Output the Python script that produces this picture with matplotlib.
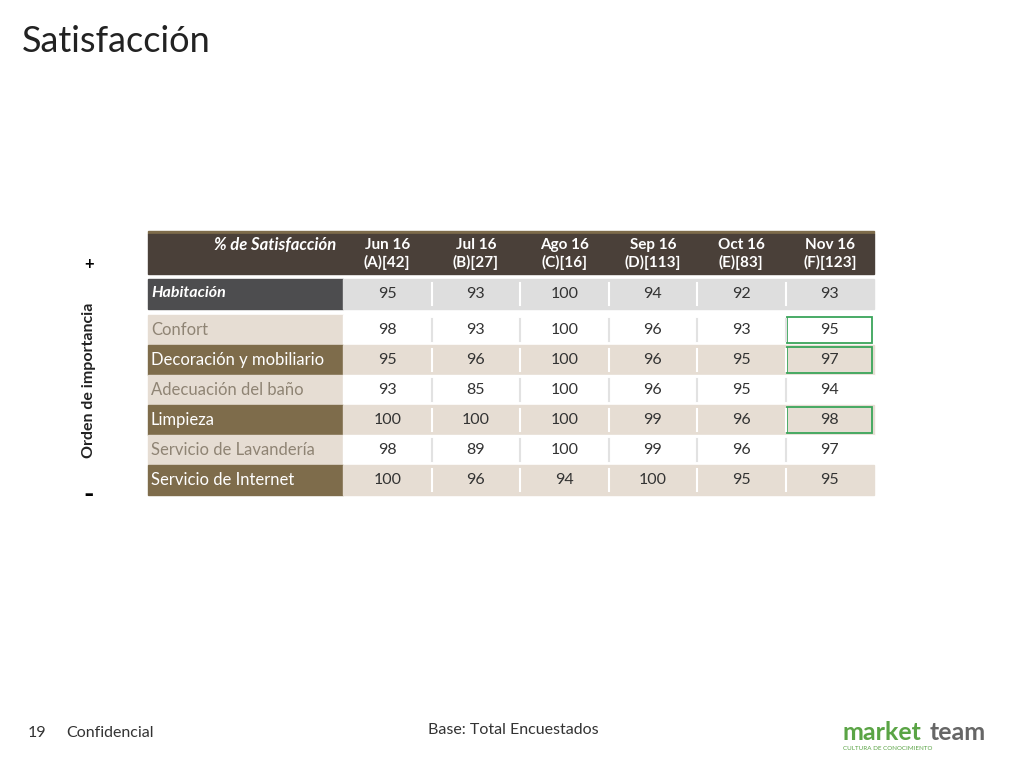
import matplotlib.pyplot as plt
from matplotlib.patches import Rectangle

columns = ["Jun 16\n(A)[42]", "Jul 16\n(B)[27]", "Ago 16\n(C)[16]",
           "Sep 16\n(D)[113]", "Oct 16\n(E)[83]", "Nov 16\n(F)[123]"]
habitacion = [95, 93, 100, 94, 92, 93]
items = ["Confort", "Decoración y mobiliario", "Adecuación del baño",
         "Limpieza", "Servicio de Lavandería", "Servicio de Internet"]
values = [
    [98, 93, 100, 96, 93, 95],
    [95, 96, 100, 96, 95, 97],
    [93, 85, 100, 96, 95, 94],
    [100, 100, 100, 99, 96, 98],
    [98, 89, 100, 99, 96, 97],
    [100, 96, 94, 100, 95, 95],
]
highlight = [(0, 5), (1, 5), (3, 5)]

FONT = "Lato"
fig = plt.figure(figsize=(10.24, 7.68), dpi=100)
ax = fig.add_axes([0, 0, 1, 1])
ax.set_xlim(0, 1024)
ax.set_ylim(768, 0)
ax.axis("off")

beige = "#e6ddd3"
olive = "#7e6c4b"
label_w, lx = 195, 148
cw = 88.5
x0 = lx + label_w

ax.text(22, 42, "Satisfacción", fontsize=26, family=FONT, color="#222222", va="center")

# header
ax.add_patch(Rectangle((lx, 231), label_w + cw * 6, 3, color="#7e6c4b"))
ax.add_patch(Rectangle((lx, 234), label_w + cw * 6, 40, color="#4a4039"))
ax.text(336, 245, "% de Satisfacción", fontsize=12, style="italic", weight="bold",
        color="white", ha="right", va="center", family=FONT)
for j, c in enumerate(columns):
    ax.text(x0 + cw * (j + 0.5), 254, c, fontsize=11, weight="bold", color="white",
            ha="center", va="center", family=FONT, linespacing=1.3)

# Habitacion row
ax.add_patch(Rectangle((lx, 279), label_w, 30, color="#4d4d4f"))
ax.add_patch(Rectangle((x0, 279), cw * 6, 30, color="#dedede"))
ax.text(lx + 3, 293, "Habitación", fontsize=11.5, style="italic", weight="bold",
        color="white", va="center", family=FONT)
for j, v in enumerate(habitacion):
    ax.text(x0 + cw * (j + 0.5), 294, str(v), fontsize=11.5, color="#333333",
            ha="center", va="center", family=FONT)
    if j:
        ax.plot([x0 + cw * j] * 2, [283, 305], color="white", lw=1.5)

row_tops = [315, 345, 375, 405, 435, 465]
rh = 29.5
for i, (name, row) in enumerate(zip(items, values)):
    y = row_tops[i]
    odd = i % 2 == 0
    ax.add_patch(Rectangle((lx, y), label_w, rh, color=beige if odd else olive))
    ax.add_patch(Rectangle((x0, y), cw * 6, rh, color="white" if odd else beige))
    ax.text(lx + 3, y + rh / 2, name, fontsize=12, color="#8f8474" if odd else "white",
            va="center", family=FONT)
    for j, v in enumerate(row):
        ax.text(x0 + cw * (j + 0.5), y + rh / 2, str(v), fontsize=11.5, color="#333333",
                ha="center", va="center", family=FONT)
        if j:
            ax.plot([x0 + cw * j] * 2, [y + 4, y + rh - 4],
                    color="#e2e2e2" if odd else "white", lw=1.5)
for i, j in highlight:
    y = row_tops[i]
    ax.add_patch(Rectangle((x0 + cw * j + 1, y + 2), cw - 3, rh - 4, fill=False,
                           ec="#3aa55a", lw=1.3))

# side annotation
ax.text(89, 380, "Orden de importancia", rotation=90, fontsize=11.5, weight="bold",
        color="#222222", ha="center", va="center", family=FONT)
ax.text(89, 264, "+", fontsize=12, weight="bold", ha="center", va="center", family=FONT)
ax.text(89, 495, "-", fontsize=20, weight="bold", ha="center", va="center", family=FONT)

# footer
ax.text(28, 733, "19", fontsize=11.5, color="#333333", va="center", family=FONT)
ax.text(66, 733, "Confidencial", fontsize=11.5, color="#333333", va="center", family=FONT)
ax.text(513, 730, "Base: Total Encuestados", fontsize=11.5, color="#333333",
        ha="center", va="center", family=FONT)
ax.text(842, 733, "market", fontsize=18, weight="bold", color="#5aa445", va="center", family=FONT)
ax.text(986, 733, "team", fontsize=18, weight="bold", color="#666666", va="center",
        ha="right", family=FONT)
ax.text(843, 749, "CULTURA DE CONOCIMIENTO", fontsize=4.5, color="#5aa445", va="center", family=FONT)

fig.savefig("out.png", dpi=100)
